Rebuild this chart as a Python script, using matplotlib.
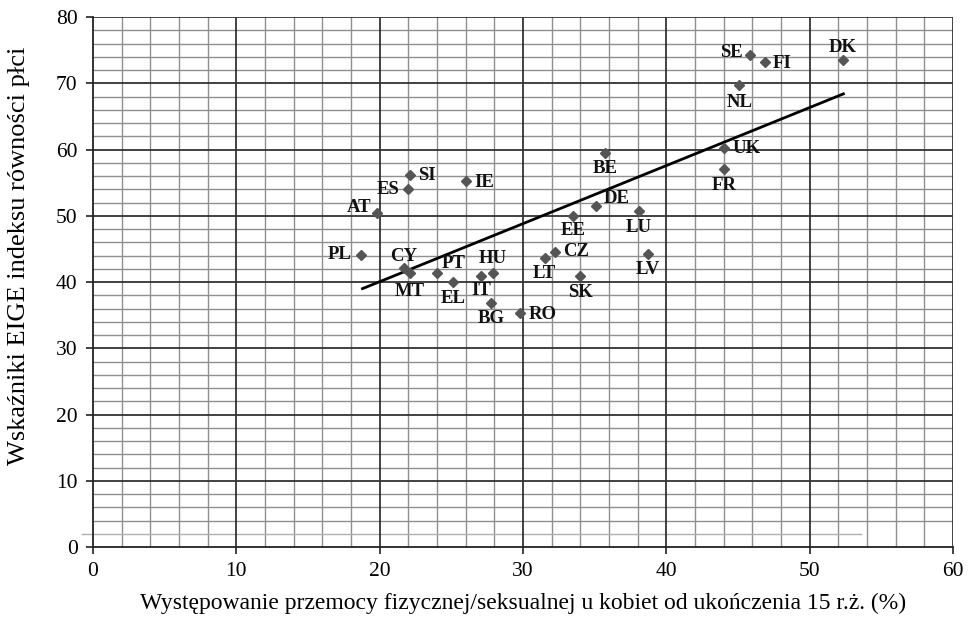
"""
Scatter of EIGE gender equality index vs. prevalence of physical/sexual violence.
"""
import numpy as np
import matplotlib.pyplot as plt
from matplotlib.ticker import MultipleLocator

countries = ['PL', 'AT', 'SI', 'ES', 'IE', 'CY', 'MT', 'PT', 'EL', 'IT', 'HU', 'BG', 'RO',
             'LT', 'CZ', 'SK', 'EE', 'DE', 'BE', 'LU', 'LV', 'UK', 'FR', 'NL', 'SE', 'FI', 'DK']
violence = [18.7, 19.8, 22.1, 22.0, 26.0, 21.7, 22.1, 24.0, 25.1, 27.1, 27.9, 27.8, 29.8,
            31.5, 32.2, 34.0, 33.5, 35.1, 35.7, 38.1, 38.7, 44.0, 44.0, 45.1, 45.8, 46.9, 52.3]
eige_index = [44.1, 50.4, 56.1, 54.0, 55.2, 42.1, 41.4, 41.3, 40.0, 40.9, 41.4, 36.9, 35.3,
              43.6, 44.6, 40.9, 50.0, 51.5, 59.5, 50.7, 44.3, 60.3, 57.0, 69.7, 74.3, 73.2, 73.5]

# trend line (start / end)
trend_x = [18.8, 52.35]
trend_y = [39.0, 68.4]

# label placement: (dx, dy) in pixels, horizontal alignment
label_pos = {
    'PL': (-9, 0, 'right'), 'AT': (-5, 6, 'right'), 'SI': (8, 0, 'left'), 'ES': (-9, 0, 'right'),
    'IE': (9, -1, 'left'), 'CY': (0, 12, 'center'), 'MT': (0, -19, 'center'),
    'PT': (17, 10, 'center'), 'EL': (0, -16, 'center'), 'IT': (0, -14, 'center'),
    'HU': (0, 14, 'center'), 'BG': (0, -16, 'center'), 'RO': (9, -1, 'left'),
    'LT': (0, -15, 'center'), 'CZ': (9, 0, 'left'), 'SK': (0, -16, 'center'),
    'EE': (0, -15, 'center'), 'DE': (8, 7, 'left'), 'BE': (0, -16, 'center'),
    'LU': (0, -16, 'center'), 'LV': (0, -16, 'center'), 'UK': (9, -1, 'left'),
    'FR': (0, -16, 'center'), 'NL': (0, -17, 'center'), 'SE': (-7, 2, 'right'),
    'FI': (7, -1, 'left'), 'DK': (0, 13, 'center'),
}

plt.rcParams['font.family'] = ['Liberation Serif', 'DejaVu Serif']

fig = plt.figure(figsize=(9.72, 6.19), dpi=100)
ax = fig.add_axes([0.0957, 0.1163, 0.8848, 0.8562])

ax.set_xlim(0, 60)
ax.set_ylim(0, 80)
ax.xaxis.set_major_locator(MultipleLocator(10))
ax.yaxis.set_major_locator(MultipleLocator(10))

# minor grid every 2 units (y=2 is drawn separately as a shorter light line)
for xv in np.arange(2, 60, 2):
    if xv % 10:
        ax.axvline(xv, color='#8f8f8f', lw=1.0, zorder=0)
for yv in np.arange(4, 80, 2):
    if yv % 10:
        ax.axhline(yv, color='#8f8f8f', lw=1.0, zorder=0)
ax.axhline(2, xmin=-0.013, xmax=53.6 / 60, color='#b0b0b0', lw=1.0, zorder=0, clip_on=False)

for xv in range(10, 61, 10):
    ax.axvline(xv, color='#222222', lw=1.2, zorder=1)
for yv in range(10, 81, 10):
    ax.axhline(yv, color='#333333', lw=1.3, zorder=1)

ax.plot(trend_x, trend_y, color='black', lw=2.0, zorder=3)
ax.plot(violence, eige_index, linestyle='none', marker='D', ms=5.5,
        color='#555555', zorder=4)

for name, x, y in zip(countries, violence, eige_index):
    dx, dy, ha = label_pos[name]
    ax.annotate(name, (x, y), xytext=(dx, dy), textcoords='offset pixels',
                ha=ha, va='center', fontsize=13.5, fontweight='bold', color='#111111', zorder=5)

for side in ['top', 'right']:
    ax.spines[side].set_visible(False)
for side in ['left', 'bottom']:
    ax.spines[side].set_color('#222222')
    ax.spines[side].set_linewidth(1.3)

ax.tick_params(direction='out', length=5, width=1.2, color='#222222', labelsize=15.5, pad=6)
ax.set_xlabel('Występowanie przemocy fizycznej/seksualnej u kobiet od ukończenia 15 r.ż. (%)',
              fontsize=17, labelpad=8)
ax.set_ylabel('Wskaźniki EIGE indeksu równości płci', fontsize=19)
ax.yaxis.set_label_coords(-0.073, 0.55)

fig.savefig('out.png', dpi=100)
